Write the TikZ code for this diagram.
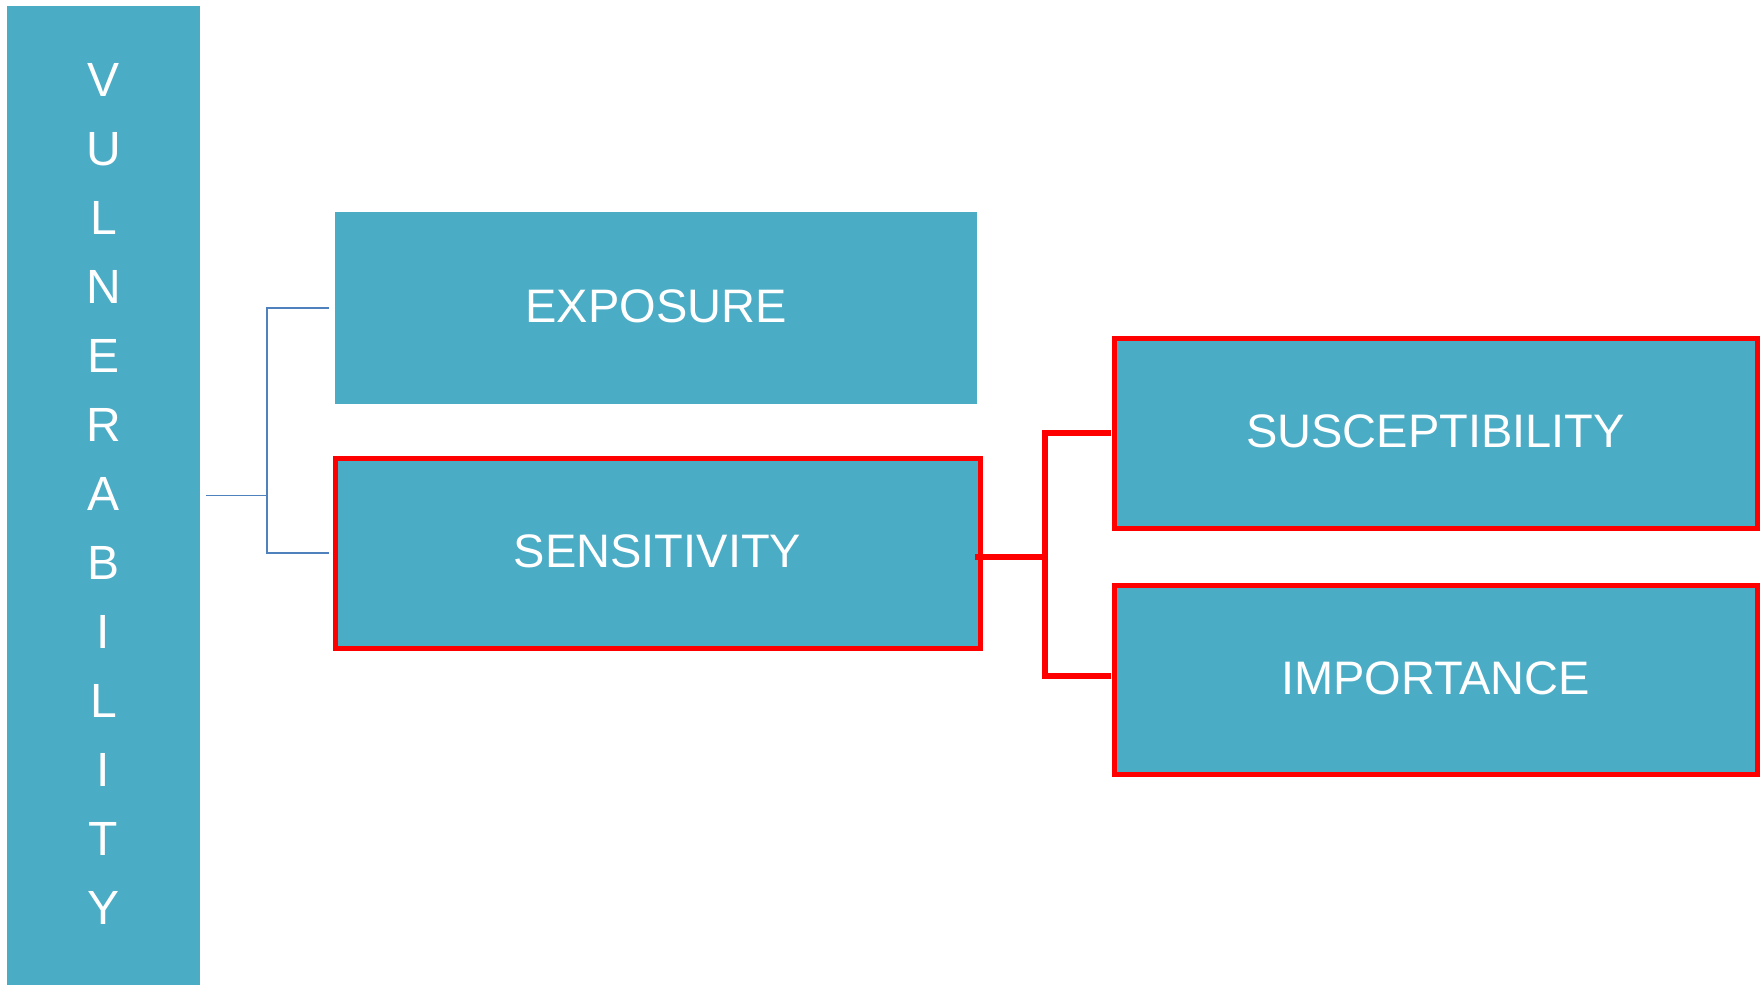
\documentclass[tikz,border=0pt]{standalone}
\usepackage{fontspec}
\setmainfont{Liberation Sans}
\definecolor{boxteal}{HTML}{4BACC6}
\definecolor{linkblue}{HTML}{4F81BD}
\definecolor{hired}{HTML}{FF0000}
\begin{document}
\begin{tikzpicture}[x=1pt,y=-1pt,
  tealbox/.style={fill=boxteal,inner sep=0pt,outer sep=0pt,text=white,
    font=\fontsize{47}{56}\selectfont,text height=34pt,text depth=5pt},
  redbox/.style={tealbox,draw=hired,line width=5pt},
  letter/.style={text=white,font=\fontsize{48}{56}\selectfont,inner sep=0pt,anchor=base},
  bline/.style={draw=linkblue,line width=1.6pt},
  rline/.style={draw=hired,line width=5.5pt}]
\useasboundingbox (0,0) rectangle (1764,985);
\fill[white] (0,0) rectangle (1764,985);
% vertical bar
\node[fill=boxteal,inner sep=0pt,outer sep=0pt,minimum width=193pt,minimum height=980pt] (vul) at (103.5,495.5) {};
\foreach \l [count=\i from 0] in {V,U,L,N,E,R,A,B,I,L,I,T,Y}
  \node[letter] (let\i) at (103.5,{96.5+69*\i}) {\l};
% boxes
\node[tealbox,minimum width=642pt,minimum height=192pt] (exp) at (656,308) {EXPOSURE};
\node[redbox,minimum width=645pt,minimum height=190pt] (sen) at (657.5,553) {SENSITIVITY};
\node[redbox,minimum width=643pt,minimum height=190pt] (sus) at (1435.5,433) {SUSCEPTIBILITY};
\node[redbox,minimum width=643pt,minimum height=189pt] (imp) at (1435.5,679.5) {IMPORTANCE};
% blue connector
\coordinate (bj) at (267,495.5);
\draw[bline] ([xshift=6pt]vul.east) -- (bj);
\draw[bline] ([xshift=-6pt]exp.west) -| (bj) |- ([xshift=-6pt]sen.west);
% red connector
\coordinate (rj) at (1045,557);
\draw[rline] ([xshift=-5pt,yshift=-4pt]sen.east) -- (rj);
\draw[rline] ([xshift=-3pt]sus.west) -| (rj) |- ([xshift=-3pt,yshift=3.5pt]imp.west);
\end{tikzpicture}
\end{document}
